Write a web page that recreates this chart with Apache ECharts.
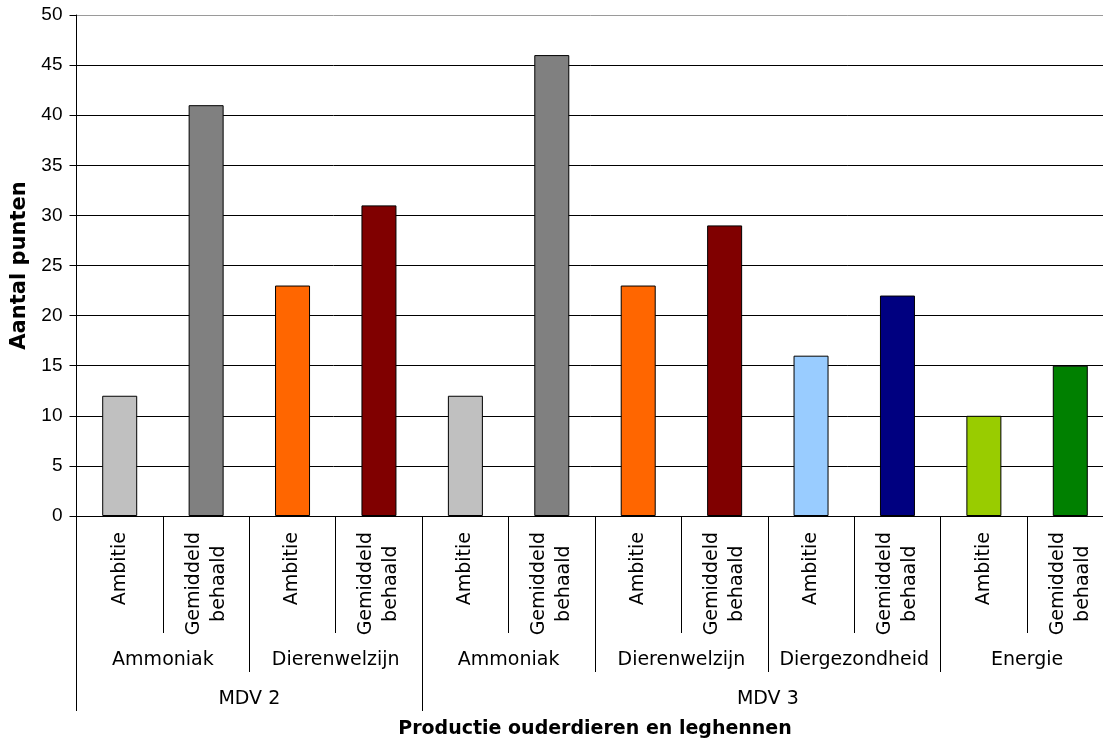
<!DOCTYPE html>
<html><head><meta charset="utf-8">
<script src="https://cdn.jsdelivr.net/npm/echarts@6/dist/echarts.min.js"></script>
<style>html,body{margin:0;padding:0;background:#fff}#c{width:1103px;height:744px}</style>
</head><body><div id="c"></div>
<script>
const categories = ['Ambitie','Gemiddeld behaald','Ambitie','Gemiddeld behaald','Ambitie','Gemiddeld behaald','Ambitie','Gemiddeld behaald','Ambitie','Gemiddeld behaald','Ambitie','Gemiddeld behaald'];
const values = [12, 41, 23, 31, 12, 46, 23, 29, 16, 22, 10, 15];
const barColors = ['#C0C0C0','#808080','#FF6600','#800000','#C0C0C0','#808080','#FF6600','#800000','#99CCFF','#000080','#99CC00','#008000'];
const topics = ['Ammoniak','Dierenwelzijn','Ammoniak','Dierenwelzijn','Diergezondheid','Energie'];
const groups = ['MDV 2','MDV 3'];
const groupSizes = [4, 8];
const yMin = 0, yMax = 50, yInterval = 5;
const xTitle = 'Productie ouderdieren en leghennen';
const yTitle = 'Aantal punten';

const groupBounds = [0];
groupSizes.forEach(s => groupBounds.push(groupBounds[groupBounds.length - 1] + s));
const groupCenters = groups.map((g, i) => (groupBounds[i] + groupBounds[i + 1]) / 2);

const catFont = 'DejaVu Sans';
const catSize = 19;
const catMargin = 16;
// second line of two-line labels is drawn by its own axis, shifted so both lines are centred on each other
const mctx = document.createElement('canvas').getContext('2d');
mctx.font = catSize + 'px "' + catFont + '"';
const twoWord = categories.find(c => c.split(' ').length > 1) || '';
const tw = twoWord.split(' ');
const shift = tw.length > 1 ? (mctx.measureText(tw[0]).width - mctx.measureText(tw[1]).width) / 2 : 0;

const chart = echarts.init(document.getElementById('c'), null, {renderer: 'canvas'});
const splitColors = [];
for (let v = yMin; v <= yMax; v += yInterval) splitColors.push(v === yMax ? '#9a9a9a' : '#000');

const labelBase = {interval: 0, rotate: 90, color: '#000', fontFamily: catFont, fontSize: catSize, lineHeight: 25};

chart.setOption({
  animation: false,
  backgroundColor: '#fff',
  grid: {left: 76.5, top: 15, width: 1037, height: 501, containLabel: false, outerBoundsMode: 'none'},
  xAxis: [
    {
      type: 'category', data: categories, position: 'bottom', boundaryGap: true,
      axisLine: {show: true, lineStyle: {color: '#000', width: 1}},
      axisTick: {show: true, interval: 0, length: 117, lineStyle: {color: '#000', width: 1}},
      axisLabel: Object.assign({}, labelBase, {
        margin: catMargin,
        formatter: v => { const w = v.split(' '); return w.length > 1 ? w[0] + '\n ' : w[0]; }
      }),
      name: xTitle, nameLocation: 'middle', nameGap: 204,
      nameTextStyle: {fontFamily: catFont, fontWeight: 'bold', fontSize: 19, color: '#000'},
      splitLine: {show: false}
    },
    {
      type: 'category', data: topics, position: 'bottom', boundaryGap: true,
      axisLine: {show: false},
      axisTick: {show: true, interval: 0, length: 156, lineStyle: {color: '#000', width: 1}},
      axisLabel: {interval: 0, margin: 135, color: '#000', fontFamily: catFont, fontSize: catSize},
      splitLine: {show: false}
    },
    {
      type: 'value', min: 0, max: groupBounds[groupBounds.length - 1], position: 'bottom',
      axisLine: {show: false},
      axisTick: {show: true, customValues: groupBounds, length: 195, lineStyle: {color: '#000', width: 1}},
      axisLabel: {
        show: true, customValues: groupCenters, margin: 174, color: '#000', fontFamily: catFont, fontSize: catSize,
        formatter: v => { const i = groupCenters.indexOf(v); return i >= 0 ? groups[i] : ''; }
      },
      splitLine: {show: false}
    },
    {
      type: 'category', data: categories, position: 'bottom', boundaryGap: true,
      axisLine: {show: false}, axisTick: {show: false}, splitLine: {show: false},
      axisLabel: Object.assign({}, labelBase, {
        margin: catMargin + shift,
        formatter: v => { const w = v.split(' '); return w.length > 1 ? ' \n' + w[1] : ''; }
      })
    }
  ],
  yAxis: {
    type: 'value', min: yMin, max: yMax, interval: yInterval,
    axisLine: {show: true, lineStyle: {color: '#000', width: 1}},
    axisTick: {show: true, length: 7, lineStyle: {color: '#000'}},
    axisLabel: {margin: 14, color: '#000', fontFamily: 'Liberation Sans', fontSize: 19},
    splitLine: {show: true, lineStyle: {color: splitColors, width: 1}},
    name: yTitle, nameLocation: 'middle', nameGap: 46,
    nameTextStyle: {fontFamily: catFont, fontWeight: 'bold', fontSize: 21, color: '#000'}
  },
  series: [{
    type: 'bar', xAxisIndex: 0, barWidth: 35,
    data: values.map((v, i) => ({value: v, itemStyle: {color: barColors[i]}})),
    itemStyle: {borderColor: '#000', borderWidth: 1}
  }]
});
</script></body></html>
